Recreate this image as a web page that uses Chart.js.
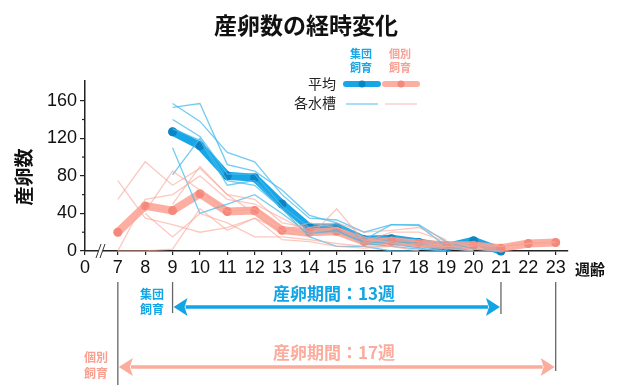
<!DOCTYPE html>
<html>
<head>
<meta charset="utf-8">
<script src="https://cdn.jsdelivr.net/npm/chart.js@4"></script>
<style>
  html, body { margin: 0; padding: 0; background: #fff; }
  #wrap { width: 620px; height: 385px; }
</style>
</head>
<body>
<div id="wrap"><canvas id="chart" width="620" height="385"></canvas></div>
<script>
// 週齢 (x) と各系列
const weeks = [7, 8, 9, 10, 11, 12, 13, 14, 15, 16, 17, 18, 19, 20, 21, 22, 23];
const tickWeeks = [0, 7, 8, 9, 10, 11, 12, 13, 14, 15, 16, 17, 18, 19, 20, 21, 22, 23];
const yTicks = [0, 40, 80, 120, 160];

// 平均
const groupMean = [null, null, 127, 112, 80, 78, 50, 25, 25, 12, 13, 9, 4, 11, 0, null, null];
const singleMean = [20, 48, 43, 61, 42, 43, 22, 20, 21, 10, 10, 8, 6, 6, 3, 8, 9];

// 各水槽 (集団飼育)
const groupTanks = [
  [null, null, 157, 138, 105, 95, 60, 35, 33, 20, 28, 28, 10, 2, 0, null, null],
  [null, null, 153, 157, 92, 85, 65, 38, 30, 15, 10, 8, 3, 0, null, null, null],
  [null, null, 140, 122, 82, 82, 48, 25, 28, 12, 28, 27, 5, 0, null, null, null],
  [null, null, 130, 118, 70, 75, 45, 20, 20, 10, 8, 3, 0, null, null, null, null],
  [null, null, 110, 40, 50, 60, 40, 18, 22, 8, 5, 2, 0, null, null, null, null],
  [null, null, 81, 120, 75, 70, 45, 15, 5, 5, 0, 0, null, null, null, null, null]
];
// 各水槽 (個別飼育)
const singleTanks = [
  [75, 35, 28, 20, 25, 35, 12, 10, 5, 3, 5, 8, 3, 0, null, null, null],
  [55, 95, 70, 88, 60, 40, 20, 15, 45, 10, 20, 20, 10, 5, null, null, null],
  [0, 55, 60, 80, 55, 50, 35, 20, 25, 12, 10, 5, 5, 2, 0, null, null],
  [0, 0, 2, 45, 22, 35, 22, 30, 25, 15, 8, 5, 8, 8, 5, 8, 9],
  [null, 42, 85, 65, 42, 45, 25, 18, 20, 8, 15, 10, 5, 6, 5, 8, 10],
  [null, 40, 15, 40, 30, 15, 15, 12, 8, 5, 5, 0, null, null, null, null, null],
  [null, null, 50, 90, 60, 55, 30, 25, 30, 20, 22, 25, 12, null, null, null, null]
];

// 産卵期間
const groupPeriod = [9, 21];
const singlePeriod = [7, 23];

// 0 と 7 の間は省略 (軸の切れ目)
function xPos(w) { return w === 0 ? 0 : w - 5.8; }
function toPoints(arr) { return weeks.map((w, i) => ({ x: xPos(w), y: arr[i] })); }

const BLUE = '#17a6e6', BLUE_DOT = '#0b84c6', BLUE_THIN = 'rgba(70,185,235,0.75)';
const RED = 'rgba(250,160,145,0.85)', RED_DOT = '#f4897b', RED_THIN = 'rgba(248,165,150,0.6)';
const JP = '"Noto Sans CJK JP", "Noto Sans", sans-serif';
const NUM = '"Liberation Sans", Arial, sans-serif';

const datasets = [];
singleTanks.forEach(t => datasets.push({ data: toPoints(t), borderColor: RED_THIN, borderWidth: 1.3, pointRadius: 0, clip: false }));
groupTanks.forEach(t => datasets.push({ data: toPoints(t), borderColor: BLUE_THIN, borderWidth: 1.3, pointRadius: 0, clip: false }));
datasets.push({ data: toPoints(singleMean), borderColor: RED, borderWidth: 8, borderCapStyle: 'round', borderJoinStyle: 'round',
  pointRadius: 4.5, pointBackgroundColor: RED_DOT, pointBorderWidth: 0, clip: false });
datasets.push({ data: toPoints(groupMean), borderColor: BLUE, borderWidth: 8, borderCapStyle: 'round', borderJoinStyle: 'round',
  pointRadius: 4.5, pointBackgroundColor: BLUE_DOT, pointBorderWidth: 0, clip: false });

function arrow(ctx, x1, x2, y, color) {
  const hl = 14, hh = 9;
  ctx.save();
  ctx.strokeStyle = color; ctx.fillStyle = color; ctx.lineWidth = 3.5;
  ctx.beginPath(); ctx.moveTo(x1 + hl - 2, y); ctx.lineTo(x2 - hl + 2, y); ctx.stroke();
  ctx.beginPath(); ctx.moveTo(x1, y); ctx.lineTo(x1 + hl, y - hh); ctx.lineTo(x1 + hl - 3, y); ctx.lineTo(x1 + hl, y + hh); ctx.closePath(); ctx.fill();
  ctx.beginPath(); ctx.moveTo(x2, y); ctx.lineTo(x2 - hl, y - hh); ctx.lineTo(x2 - hl + 3, y); ctx.lineTo(x2 - hl, y + hh); ctx.closePath(); ctx.fill();
  ctx.restore();
}

function twoLine(ctx, a, b, x, y1, y2, color, size) {
  ctx.fillStyle = color;
  ctx.font = 'bold ' + size + 'px ' + JP;
  ctx.fillText(a, x, y1);
  ctx.fillText(b, x, y2);
}

const extras = {
  id: 'extras',
  afterDraw(chart) {
    const ctx = chart.ctx, xs = chart.scales.x, ys = chart.scales.y;
    const left = chart.chartArea.left;
    ctx.save();
    ctx.textAlign = 'center'; ctx.textBaseline = 'middle';

    // タイトル
    ctx.fillStyle = '#111';
    ctx.font = 'bold 23px ' + JP;
    ctx.fillText('産卵数の経時変化', 306, 25);

    // 縦軸タイトル
    ctx.save();
    ctx.translate(24, 177); ctx.rotate(-Math.PI / 2);
    ctx.font = 'bold 19px ' + JP;
    ctx.fillText('産卵数', 0, 0);
    ctx.restore();

    // 凡例
    twoLine(ctx, '集団', '飼育', 361, 54, 68, BLUE, 11);
    twoLine(ctx, '個別', '飼育', 400, 54, 68, '#f8a193', 11);
    ctx.fillStyle = '#222'; ctx.font = '14px ' + JP; ctx.textAlign = 'right';
    ctx.fillText('平均', 336, 84);
    ctx.fillText('各水槽', 336, 103);
    ctx.lineCap = 'round';
    [[346, 378, BLUE, BLUE_DOT], [385, 417, RED, RED_DOT]].forEach(([a, b, c, d]) => {
      ctx.strokeStyle = c; ctx.lineWidth = 6;
      ctx.beginPath(); ctx.moveTo(a, 84); ctx.lineTo(b, 84); ctx.stroke();
      ctx.fillStyle = d; ctx.beginPath(); ctx.arc((a + b) / 2, 84, 3.5, 0, Math.PI * 2); ctx.fill();
    });
    ctx.lineCap = 'butt'; ctx.lineWidth = 1.3;
    [[346, 378, BLUE_THIN], [385, 417, RED_THIN]].forEach(([a, b, c]) => {
      ctx.strokeStyle = c; ctx.beginPath(); ctx.moveTo(a, 104); ctx.lineTo(b, 104); ctx.stroke();
    });

    // 小目盛り
    ctx.strokeStyle = '#222'; ctx.lineWidth = 1.2;
    [20, 60, 100, 140].forEach(v => {
      const y = ys.getPixelForValue(v);
      ctx.beginPath(); ctx.moveTo(left - 3, y); ctx.lineTo(left, y); ctx.stroke();
    });

    // 軸の切れ目
    ctx.fillStyle = '#fff';
    ctx.beginPath(); ctx.moveTo(96, 258); ctx.lineTo(101, 244); ctx.lineTo(105, 244); ctx.lineTo(100, 258); ctx.closePath(); ctx.fill();
    ctx.strokeStyle = '#333'; ctx.lineWidth = 1;
    ctx.beginPath(); ctx.moveTo(96, 258); ctx.lineTo(101, 244); ctx.stroke();
    ctx.beginPath(); ctx.moveTo(100, 258); ctx.lineTo(105, 244); ctx.stroke();

    // 週齢
    ctx.textAlign = 'center'; ctx.fillStyle = '#111';
    ctx.font = 'bold 15px ' + JP;
    ctx.fillText('週齢', 590, 269);

    // 産卵期間
    const g1 = xs.getPixelForValue(xPos(groupPeriod[0])), g2 = xs.getPixelForValue(xPos(groupPeriod[1]));
    const s1 = xs.getPixelForValue(xPos(singlePeriod[0])), s2 = xs.getPixelForValue(xPos(singlePeriod[1]));
    ctx.strokeStyle = '#666'; ctx.lineWidth = 1.3;
    [[g1, 313], [g2, 314], [s1, 385], [s2, 371]].forEach(([x, y2]) => {
      ctx.beginPath(); ctx.moveTo(x, 282); ctx.lineTo(x, y2); ctx.stroke();
    });
    arrow(ctx, g1 + 1, g2 - 1, 307, '#12a5e5');
    arrow(ctx, s1 + 1, s2 - 1, 367, '#fbac9c');
    ctx.font = 'bold 17px ' + JP;
    ctx.fillStyle = '#12a5e5';
    ctx.fillText('産卵期間：' + (groupPeriod[1] - groupPeriod[0] + 1) + '週', 334, 294);
    ctx.fillStyle = '#fbac9c';
    ctx.fillText('産卵期間：' + (singlePeriod[1] - singlePeriod[0] + 1) + '週', 334, 353);
    twoLine(ctx, '集団', '飼育', 152, 294, 309, '#12a5e5', 12);
    twoLine(ctx, '個別', '飼育', 96, 357, 373, '#f8a193', 12);
    ctx.restore();
  }
};

new Chart(document.getElementById('chart'), {
  type: 'line',
  data: { datasets: datasets },
  options: {
    responsive: false,
    animation: false,
    events: [],
    layout: { padding: { top: 81, right: 52, left: 0, bottom: 0 } },
    plugins: { legend: { display: false }, tooltip: { enabled: false }, title: { display: false } },
    scales: {
      x: {
        type: 'linear', min: 0, max: 17.65,
        afterFit: s => { s.height = 134; },
        afterBuildTicks: s => { s.ticks = tickWeeks.map(w => ({ value: xPos(w) })); },
        ticks: {
          autoSkip: false, maxRotation: 0, padding: 2, color: '#111',
          font: { family: NUM, size: 18 },
          callback: (v, i) => String(tickWeeks[i])
        },
        grid: { drawOnChartArea: false, drawTicks: true, tickLength: 4, color: '#222', lineWidth: 1.2 },
        border: { color: '#222', width: 1.5 }
      },
      y: {
        min: 0, max: 181,
        afterFit: s => { s.width = 85; },
        afterBuildTicks: s => { s.ticks = yTicks.map(v => ({ value: v })); },
        ticks: { padding: 3, color: '#111', font: { family: NUM, size: 18 } },
        grid: { drawOnChartArea: false, drawTicks: true, tickLength: 5, color: '#222', lineWidth: 1.2 },
        border: { color: '#222', width: 1.5 }
      }
    }
  },
  plugins: [extras]
});
</script>
</body>
</html>
